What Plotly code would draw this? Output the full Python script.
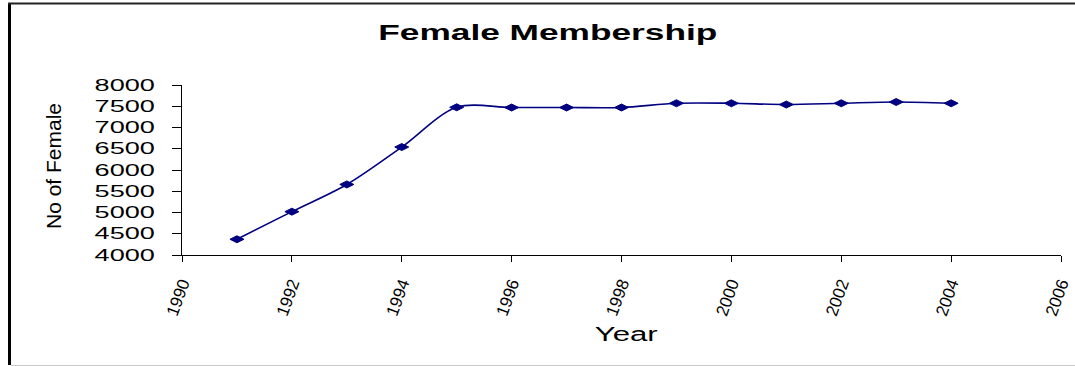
import plotly.graph_objects as go

# Membership counts by year
years = [1991, 1992, 1993, 1994, 1995, 1996, 1997, 1998, 1999, 2000, 2001, 2002, 2003, 2004]
female_members = [4370, 5020, 5660, 6540, 7475, 7470, 7470, 7470, 7570, 7570, 7540, 7570, 7600, 7570]

x_ticks = [1990, 1992, 1994, 1996, 1998, 2000, 2002, 2004, 2006]
y_ticks = [4000, 4500, 5000, 5500, 6000, 6500, 7000, 7500, 8000]

chart_title = "Female Membership"
x_title = "Year"
y_title = "No of Female"

W, H = 1075, 366
L, R, T, B = 182, 14, 85, 111
pw, ph = W - L - R, H - T - B


def px_x(p):
    return (p - L) / pw


def px_y(p):
    return (H - B - p) / ph


FONT = "Liberation Sans, Arial, sans-serif"
NAVY = "#000080"

fig = go.Figure()
fig.add_trace(go.Scatter(
    x=years, y=female_members,
    mode="lines+markers",
    line=dict(color=NAVY, width=1.6, shape="spline", smoothing=0.9),
    marker=dict(symbol="diamond-wide", size=10, color=NAVY,
                line=dict(color=NAVY, width=1)),
    showlegend=False,
    hoverinfo="x+y",
))

fig.update_layout(
    width=W, height=H,
    margin=dict(l=L, r=R, t=T, b=B, autoexpand=False),
    paper_bgcolor="white",
    plot_bgcolor="white",
    font=dict(family=FONT, color="black"),
    xaxis=dict(
        range=[1990, 2006], tickvals=x_ticks, ticktext=[str(v) for v in x_ticks],
        tickangle=-70, tickfont=dict(size=17, family=FONT),
        showline=True, linecolor="black", linewidth=1,
        ticks="outside", ticklen=6, tickcolor="black", tickwidth=1,
        showgrid=False, zeroline=False, ticklabelstandoff=5,
        automargin=False,
    ),
    yaxis=dict(
        range=[4000, 8000], tickvals=y_ticks, ticktext=[str(v) for v in y_ticks],
        tickfont=dict(size=16, family=FONT),
        showline=True, linecolor="black", linewidth=1,
        ticks="outside", ticklen=9, tickcolor="black", tickwidth=1,
        showgrid=False, zeroline=False, ticklabelstandoff=14,
        automargin=False,
    ),
    annotations=[
        dict(text=chart_title, xref="paper", yref="paper",
             x=px_x(547.5), y=px_y(32), xanchor="center", yanchor="middle",
             showarrow=False,
             font=dict(size=22, family=FONT, color="black", weight="bold")),
        dict(text=x_title, xref="paper", yref="paper",
             x=px_x(626.5), y=px_y(334), xanchor="center", yanchor="middle",
             showarrow=False, font=dict(size=20, family=FONT, color="black")),
        dict(text=y_title, xref="paper", yref="paper",
             x=px_x(53), y=px_y(166), xanchor="center", yanchor="middle",
             textangle=-90, showarrow=False,
             font=dict(size=21, family=FONT, color="black")),
    ],
    shapes=[
        # chart frame: heavy left edge, dark top edge, faint bottom edge
        dict(type="line", xref="paper", yref="paper",
             x0=px_x(9.5), x1=px_x(9.5), y0=px_y(3), y1=px_y(365),
             line=dict(color="black", width=3)),
        dict(type="line", xref="paper", yref="paper",
             x0=px_x(8), x1=px_x(1075), y0=px_y(3.5), y1=px_y(3.5),
             line=dict(color="#222222", width=2)),
        dict(type="line", xref="paper", yref="paper",
             x0=px_x(11), x1=px_x(1075), y0=px_y(365.5), y1=px_y(365.5),
             line=dict(color="#c8c8c8", width=1)),
    ],
)

# Page tweaks: no scrollbars, and the horizontal captions drawn in the wide
# letterform of the original chart (SVG textLength stretch).
post = """
document.documentElement.style.overflow = 'hidden';
document.body.style.margin = '0';
document.body.style.overflow = 'hidden';
var gd = document.getElementById('{plot_id}');
function widen(el, len) {
  el.setAttribute('textLength', len.toFixed(1));
  el.setAttribute('lengthAdjust', 'spacingAndGlyphs');
}
gd.querySelectorAll('.ytick text').forEach(function (t) {
  widen(t, t.getComputedTextLength() * 1.69);
});
var targets = {'Female Membership': 339, 'Year': 63};
gd.querySelectorAll('.annotation-text').forEach(function (t) {
  var s = t.textContent;
  if (targets[s] !== undefined) widen(t, targets[s]);
});
"""

fig.write_html("out.html", config={"responsive": False}, post_script=post)
